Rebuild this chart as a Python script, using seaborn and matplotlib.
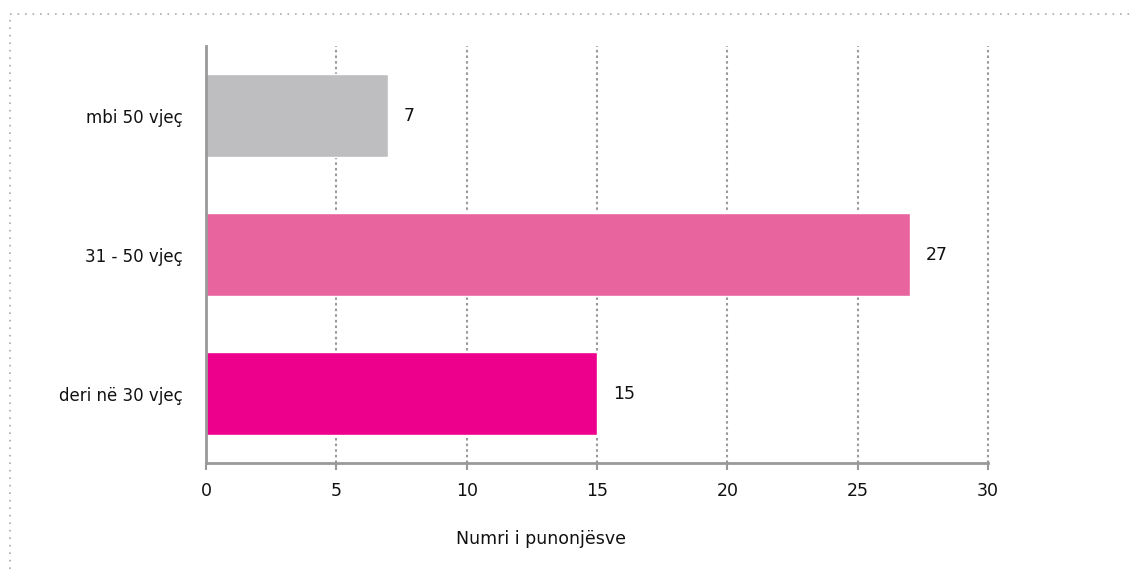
import pandas as pd
import seaborn as sns
import matplotlib.pyplot as plt
from matplotlib.lines import Line2D

# te dhenat
categories = ['mbi 50 vjeç', '31 - 50 vjeç', 'deri në 30 vjeç']
values = [7, 27, 15]
colors = ['#BEBEC0', '#E8649E', '#EC008C']
xticks = [0, 5, 10, 15, 20, 25, 30]

df = pd.DataFrame({'grupmosha': categories, 'numri': values})

sns.set_style('white')
plt.rcParams['font.family'] = ['DejaVu Sans']

fig = plt.figure(figsize=(11.31, 5.69), dpi=100)
ax = fig.add_axes([206 / 1131, 1 - 463 / 569, (988 - 206) / 1131, (463 - 46) / 569])

sns.barplot(data=df, x='numri', y='grupmosha', hue='grupmosha', palette=colors,
            order=categories, width=0.59, legend=False, ax=ax, saturation=1)

ax.set_xlim(0, 30)
ax.set_ylim(2.5, -0.5)
ax.set_xticks(xticks)
ax.set_xticklabels([str(t) for t in xticks], fontsize=12.5, color='#111111')
ax.tick_params(axis='x', length=5, width=1.5, color='#999999', pad=9, direction='out', bottom=True)
ax.tick_params(axis='y', length=0, pad=17, labelsize=12, labelcolor='#111111')

for x in xticks[1:]:
    ax.axvline(x, color='#999999', linestyle=(0, (1.2, 1.5)), linewidth=1.5, zorder=0, clip_on=False)

for s in ['top', 'right']:
    ax.spines[s].set_visible(False)
for s in ['left', 'bottom']:
    ax.spines[s].set_color('#999999')
    ax.spines[s].set_linewidth(2)

for i, v in enumerate(values):
    ax.text(v + 0.6, i, str(v), va='center', ha='left', fontsize=12.5, color='#111111')

ax.set_ylabel('')
ax.set_xlabel('Numri i punonjësve', fontsize=12.5, color='#111111')
ax.xaxis.set_label_coords((541 - 206) / 782, -(530 - 463) / 417)

# kufiri me pika
fig.add_artist(Line2D([10 / 1131, 1], [1 - 14 / 569] * 2, transform=fig.transFigure,
                      color='#aaaaaa', linestyle=(0, (1, 3.5)), linewidth=1.2))
fig.add_artist(Line2D([10 / 1131] * 2, [0, 1 - 14 / 569], transform=fig.transFigure,
                      color='#aaaaaa', linestyle=(0, (1, 3.5)), linewidth=1.2))

fig.savefig('out.png', dpi=100)
